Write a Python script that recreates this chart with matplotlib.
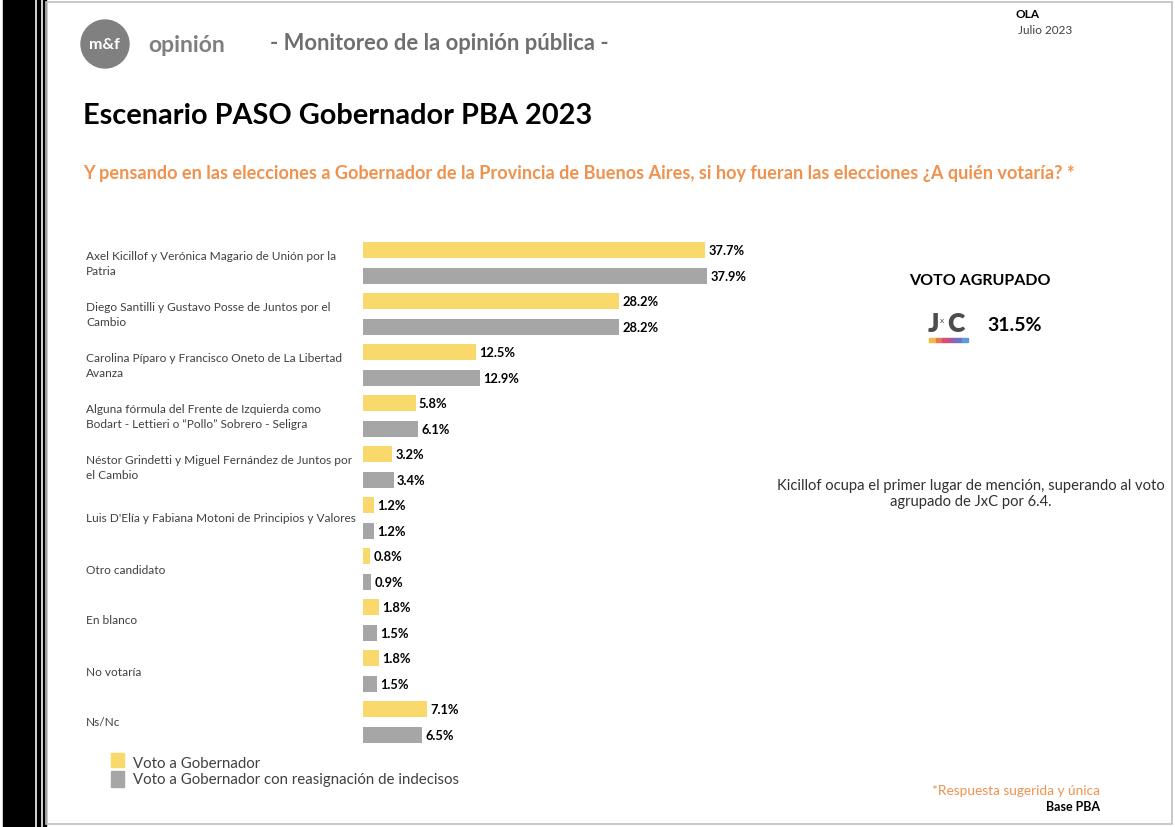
import matplotlib
matplotlib.use('Agg')
import matplotlib.pyplot as plt
import matplotlib.transforms as mtransforms
from matplotlib.patches import Rectangle, Ellipse

plt.rcParams['font.family'] = ['Lato', 'DejaVu Sans']

categories = [
    "Axel Kicillof y Verónica Magario de Unión por la\nPatria",
    "Diego Santilli y Gustavo Posse de Juntos por el\nCambio",
    "Carolina Píparo y Francisco Oneto de La Libertad\nAvanza",
    "Alguna fórmula del Frente de Izquierda como\nBodart - Lettieri o \u201cPollo\u201d Sobrero - Seligra",
    "Néstor Grindetti y Miguel Fernández de Juntos por\nel Cambio",
    "Luis D'Elía y Fabiana Motoni de Principios y Valores",
    "Otro candidato",
    "En blanco",
    "No votaría",
    "Ns/Nc",
]
voto = [37.7, 28.2, 12.5, 5.8, 3.2, 1.2, 0.8, 1.8, 1.8, 7.1]
voto_reasig = [37.9, 28.2, 12.9, 6.1, 3.4, 1.2, 0.9, 1.5, 1.5, 6.5]
series_names = ["Voto a Gobernador", "Voto a Gobernador con reasignación de indecisos"]

YELLOW = "#F9D96B"
GRAY = "#A6A6A6"
ORANGE = "#EE924E"
W, H = 1175, 828

fig = plt.figure(figsize=(W / 100, H / 100), dpi=100)


def fx(x):
    return x / W


def fy(y):
    return 1 - y / H


# page borders
fig.patches.append(Rectangle((fx(3), 0), fx(31), 1, transform=fig.transFigure, color="black"))
fig.patches.append(Rectangle((fx(37), 0), fx(3), 1, transform=fig.transFigure, color="black"))
fig.patches.append(Rectangle((fx(43), 0), fx(3), 1, transform=fig.transFigure, color="black"))
fig.patches.append(Rectangle((fx(46), fy(825)), fx(1126), fy(3) - fy(825), transform=fig.transFigure,
                             fill=False, edgecolor="#BFBFBF", linewidth=1.2))

# logo
fig.patches.append(Ellipse((fx(105), fy(45)), fx(48), 48 / H, transform=fig.transFigure, color="#808080"))
fig.text(fx(104), fy(45), "m&f", color="white", fontsize=11.5, fontweight="bold", ha="center", va="center")
fig.text(fx(148), fy(45), "opinión", color="#7F7F7F", fontsize=16.5, fontweight="bold", ha="left", va="center")
fig.text(fx(270), fy(44), "- Monitoreo de la opinión pública -", color="#6F6F6F", fontsize=15.8,
         fontweight="bold", ha="left", va="center")

fig.text(fx(1015), fy(15), "OLA", fontsize=8.5, fontweight="bold", ha="left", va="center")
fig.text(fx(1018), fy(31), "Julio 2023", fontsize=8.5, color="#404040", ha="left", va="center")

fig.text(fx(83), fy(116), "Escenario PASO Gobernador PBA 2023", fontsize=20.8, fontweight="bold",
         ha="left", va="center")
fig.text(fx(83), fy(173), "Y pensando en las elecciones a Gobernador de la Provincia de Buenos Aires, "
         "si hoy fueran las elecciones ¿A quién votaría? *", fontsize=13.1, fontweight="bold",
         color=ORANGE, ha="left", va="center")

# bar chart
n = len(categories)
ax = fig.add_axes([fx(363), fy(748.5), fx(363), (748.5 - 238.5) / H])
pos = list(range(n))
ax.barh([p - 0.255 for p in pos], voto, height=0.32, color=YELLOW)
ax.barh([p + 0.255 for p in pos], voto_reasig, height=0.32, color=GRAY)
for p, v1, v2 in zip(pos, voto, voto_reasig):
    ax.text(v1 + 0.35, p - 0.255, f"{v1:.1f}%", fontsize=9.3, fontweight="bold", va="center", ha="left")
    ax.text(v2 + 0.35, p + 0.255, f"{v2:.1f}%", fontsize=9.3, fontweight="bold", va="center", ha="left")
ax.set_xlim(0, 40)
ax.set_ylim(n - 0.5, -0.5)
ax.axis("off")

label_tr = mtransforms.blended_transform_factory(fig.transFigure, ax.transData)
for p, lab in enumerate(categories):
    ax.text(fx(86), p, lab, transform=label_tr, fontsize=8.6, color="#404040",
            ha="left", va="center", linespacing=1.45)

# legend
fig.patches.append(Rectangle((fx(111), fy(768)), fx(13), 14 / H, transform=fig.transFigure, color=YELLOW))
fig.patches.append(Rectangle((fx(111), fy(788)), fx(13), 16 / H, transform=fig.transFigure, color=GRAY))
fig.text(fx(133), fy(764), series_names[0], fontsize=10.8, color="#404040", ha="left", va="center")
fig.text(fx(133), fy(780), series_names[1], fontsize=10.8, color="#404040", ha="left", va="center")

fig.text(fx(1100), fy(791), "*Respuesta sugerida y única", fontsize=9.8, color=ORANGE, ha="right", va="center")
fig.text(fx(1100), fy(807), "Base PBA", fontsize=9, fontweight="bold", ha="right", va="center")

# voto agrupado
fig.text(fx(980), fy(281), "VOTO AGRUPADO", fontsize=11.5, fontweight="bold", ha="center", va="center")
fig.text(fx(933), fy(324), "J", fontsize=19, fontweight="heavy", color="#4D4D4D", ha="center", va="center")
fig.text(fx(942), fy(321), "x", fontsize=6, color="#4D4D4D", ha="center", va="center")
fig.text(fx(956), fy(324), "C", fontsize=19, fontweight="heavy", color="#4D4D4D", ha="center", va="center")
stripe = ["#F6B84A", "#E9794E", "#D4506E", "#A45A9E", "#6F74C2", "#5A9BD8"]
for i, c in enumerate(stripe):
    fig.patches.append(Rectangle((fx(929 + i * 6.5), fy(343)), fx(6.6), 4 / H,
                                 transform=fig.transFigure, color=c))
fig.text(fx(987), fy(326), "31.5%", fontsize=14, fontweight="bold", ha="left", va="center")

fig.text(fx(971), fy(494), "Kicillof ocupa el primer lugar de mención, superando al voto\n"
         "agrupado de JxC por 6.4.", fontsize=10.6, color="#303030", ha="center", va="center",
         linespacing=1.2)

fig.savefig("out.png", dpi=100)
